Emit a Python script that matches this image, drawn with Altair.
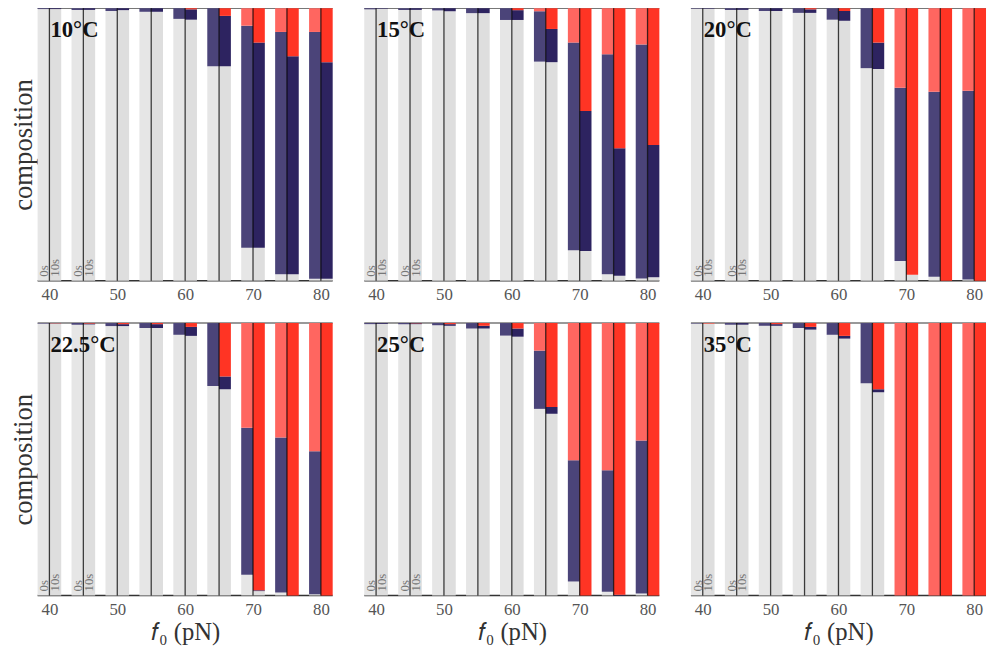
import altair as alt
import pandas as pd

f0_values = [40, 45, 50, 55, 60, 65, 70, 75, 80]
temps = ["10°C", "15°C", "20°C", "22.5°C", "25°C", "35°C"]

# fractions: blue (middle) and red (top); gray is the rest
blue_0s = {
    "10°C":   [0.003, 0.006, 0.010, 0.013, 0.039, 0.213, 0.815, 0.890, 0.906],
    "15°C":   [0.004, 0.006, 0.008, 0.018, 0.043, 0.185, 0.762, 0.808, 0.859],
    "20°C":   [0.002, 0.006, 0.010, 0.017, 0.042, 0.220, 0.636, 0.679, 0.693],
    "22.5°C": [0.002, 0.006, 0.011, 0.018, 0.043, 0.231, 0.540, 0.569, 0.525],
    "25°C":   [0.004, 0.004, 0.008, 0.020, 0.046, 0.214, 0.445, 0.446, 0.562],
    "35°C":   [0.002, 0.006, 0.010, 0.018, 0.043, 0.221, 0.0, 0.0, 0.0],
}
red_0s = {
    "10°C":   [0, 0, 0, 0, 0, 0, 0.064, 0.087, 0.087],
    "15°C":   [0, 0, 0, 0, 0, 0.011, 0.126, 0.169, 0.133],
    "20°C":   [0, 0, 0, 0, 0, 0, 0.292, 0.307, 0.303],
    "22.5°C": [0, 0, 0, 0, 0, 0, 0.384, 0.420, 0.471],
    "25°C":   [0, 0, 0, 0, 0, 0.101, 0.504, 0.540, 0.431],
    "35°C":   [0, 0, 0, 0, 0, 0, 1.0, 1.0, 1.0],
}
blue_10s = {
    "10°C":   [0.003, 0.006, 0.007, 0.013, 0.038, 0.185, 0.753, 0.801, 0.795],
    "15°C":   [0.002, 0.006, 0.011, 0.018, 0.036, 0.122, 0.514, 0.468, 0.486],
    "20°C":   [0.002, 0.006, 0.010, 0.013, 0.036, 0.097, 0.0, 0.0, 0.0],
    "22.5°C": [0.001, 0.003, 0.007, 0.014, 0.033, 0.047, 0.003, 0.0, 0.0],
    "25°C":   [0.003, 0.003, 0.006, 0.010, 0.030, 0.025, 0.0, 0.003, 0.0],
    "35°C":   [0.0, 0.006, 0.006, 0.010, 0.010, 0.011, 0.0, 0.0, 0.0],
}
red_10s = {
    "10°C":   [0, 0, 0, 0, 0.004, 0.028, 0.126, 0.176, 0.198],
    "15°C":   [0, 0, 0, 0, 0.007, 0.076, 0.377, 0.514, 0.502],
    "20°C":   [0, 0, 0, 0.004, 0.010, 0.126, 0.978, 1.0, 1.0],
    "22.5°C": [0.001, 0.002, 0.004, 0.004, 0.014, 0.196, 0.981, 1.0, 1.0],
    "25°C":   [0, 0.001, 0.004, 0.010, 0.020, 0.308, 1.0, 0.997, 1.0],
    "35°C":   [0.002, 0, 0.004, 0.014, 0.047, 0.243, 1.0, 1.0, 1.0],
}
time_labels = ["0s", "10s"]
tick_values = [40, 50, 60, 70, 80]

FONT = "Liberation Serif"
BW = 1.74

rows = []
for t in temps:
    for tm, bl, rd in (("0s", blue_0s[t], red_0s[t]), ("10s", blue_10s[t], red_10s[t])):
        for f, b, r in zip(f0_values, bl, rd):
            g = max(0.0, 1.0 - b - r)
            rows.append(dict(temp=t, f0=f, time=tm, ord=0, value=g, key="gray_" + tm))
            rows.append(dict(temp=t, f0=f, time=tm, ord=1, value=b, key="blue_" + tm))
            rows.append(dict(temp=t, f0=f, time=tm, ord=2, value=r, key="red_" + tm))
df = pd.DataFrame(rows)

color_scale = alt.Scale(
    domain=["gray_0s", "gray_10s", "blue_0s", "blue_10s", "red_0s", "red_10s"],
    range=["#e6e6e6", "#dedede", "#4b4479", "#2d2360", "#ff6660", "#ff3424"],
)

xscale = alt.Scale(domain=[40 - BW, 80 + BW], nice=False, zero=False)
yscale = alt.Scale(domain=[0, 1], nice=False)

W, H = 299, 276


def panel(t, left, bottom):
    xaxis = alt.Axis(values=tick_values, ticks=False, domain=False, grid=False,
                     labelFont=FONT, labelFontSize=17, labelColor="#555555",
                     labelPadding=6, titleFont=FONT, titleFontSize=25,
                     titleFontWeight="normal", titleColor="#333333", titlePadding=3,
                     title=("𝑓₀ (pN)" if bottom else ""))
    yaxis = alt.Axis(labels=False, ticks=False, domain=False, grid=False,
                     title=("composition" if left else ""), titleFont=FONT, titleFontSize=27,
                     titleFontWeight="normal", titleColor="#333333", titlePadding=0)

    def X(field):
        return alt.X(field, scale=xscale, axis=xaxis)

    def Y(field):
        return alt.Y(field, scale=yscale, axis=yaxis)

    bars = alt.Chart(df).transform_filter(alt.datum.temp == t).transform_window(
        y1="sum(value)", groupby=["temp", "f0", "time"],
        sort=[alt.SortField("ord", order="ascending")],
        frame=[None, 0],
    ).transform_calculate(
        y0="datum.y1 - datum.value",
        xs=f"datum.time == '0s' ? datum.f0 - {BW} : datum.f0",
        xe=f"datum.time == '0s' ? datum.f0 : datum.f0 + {BW}",
    ).mark_bar(strokeWidth=0).encode(
        x=X("xs:Q"),
        x2="xe:Q",
        y=Y("y0:Q"),
        y2="y1:Q",
        color=alt.Color("key:N", scale=color_scale, legend=None),
    )

    bottom_rule = alt.Chart(pd.DataFrame({"y": [0]})).mark_rule(
        strokeWidth=1.5, color="#333333").encode(y=Y("y:Q"))
    top_rule = alt.Chart(pd.DataFrame({"y": [1]})).mark_rule(
        strokeWidth=1.5, color="#777777").encode(y=Y("y:Q"))

    vrules = alt.Chart(pd.DataFrame({"f0": f0_values})).mark_rule(
        color="black", opacity=0.75, strokeWidth=1.3
    ).encode(x=X("f0:Q"))

    tlabel = alt.Chart(pd.DataFrame({"t": [t]})).mark_text(
        font=FONT, fontSize=23, fontWeight="bold", color="#111111",
        align="left", baseline="alphabetic"
    ).encode(x=alt.value(13), y=alt.value(29), text="t:N")

    lab = pd.DataFrame({"f0": [40, 40, 45, 45], "time": time_labels * 2, "yl": [0, 0, 0, 0]})
    tlabs = alt.Chart(lab).transform_calculate(
        xl="datum.time == '0s' ? datum.f0 - 0.75 : datum.f0 + 0.85"
    ).mark_text(
        font=FONT, fontSize=13, color="#777777", angle=270,
        align="left", baseline="middle", yOffset=-4
    ).encode(
        x=X("xl:Q"),
        y=Y("yl:Q"),
        text="time:N",
    )

    return alt.layer(bottom_rule, top_rule, bars, vrules, tlabel, tlabs).properties(width=W, height=H)


row1 = alt.hconcat(*[panel(t, i == 0, False) for i, t in enumerate(temps[:3])], spacing=30)
row2 = alt.hconcat(*[panel(t, i == 0, True) for i, t in enumerate(temps[3:])], spacing=30)

chart = alt.vconcat(row1, row2, spacing=20).properties(
    padding={"left": 2, "top": -5, "right": 0, "bottom": 0}
).configure_view(stroke=None).configure_axis(
    labelFont=FONT, titleFont=FONT
).configure_text(font=FONT)

chart.save("out.html", embed_options={"renderer": "svg", "actions": False})
